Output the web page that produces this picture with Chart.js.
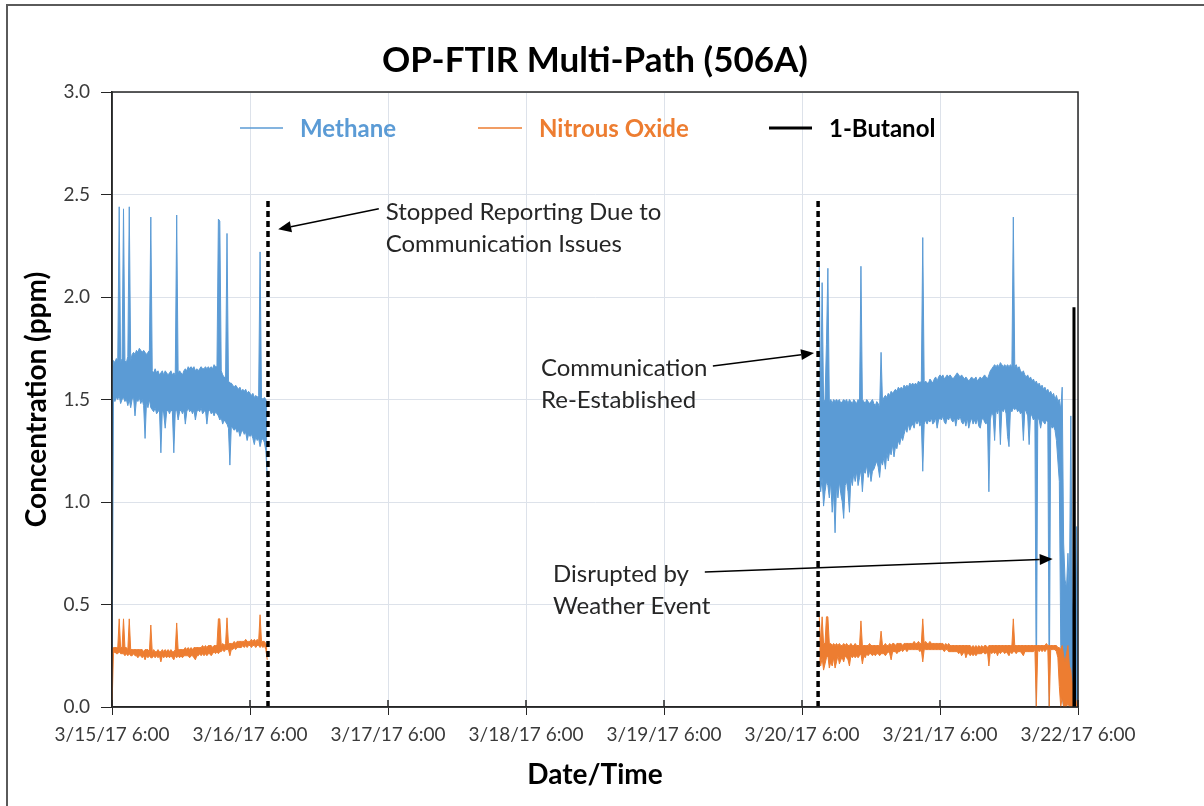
<!DOCTYPE html>
<html>
  <head>
    <title>OP-FTIR Multi-Path (506A)</title>
    <script src="https://cdn.jsdelivr.net/npm/chart.js"></script>
    <style>
      body {
        margin: 0;
        background-color: #ffffff;
        overflow: hidden;
      }
      /* grey frame of the pasted Excel chart, only left/top edges show */
      .frame {
        position: absolute;
        left: 6px;
        top: 4px;
        width: 1400px;
        height: 1000px;
        border: 2px solid #5a5a5a;
      }
      .chart-container {
        position: absolute;
        left: 0;
        top: 0;
        width: 1204px;
        height: 806px;
      }
    </style>
  </head>
  <body>
    <div class="frame"></div>
    <div class="chart-container">
      <canvas id="ftirChart"></canvas>
    </div>

    <script>
      // ---- data ----
      // x = hours after 3/15/17 6:00; readings are summarised as the high/low
      // of each 15 minute block (the raw trace is too dense to read one by one)
      const xTickLabels = ["3/15/17 6:00", "3/16/17 6:00", "3/17/17 6:00", "3/18/17 6:00",
        "3/19/17 6:00", "3/20/17 6:00", "3/21/17 6:00", "3/22/17 6:00"];
      const yTickValues = [0, 0.5, 1.0, 1.5, 2.0, 2.5, 3.0];

      const sampleStep = 0.25;
      const run1Start = 0;     // 3/15 6:00
      const run2Start = 123;   // 3/20 ~9:00

      // first run, 3/15 6:00 -> 3/16 9:00 (ppm)
      const methaneHigh1 = [
        1.60, 1.69, 1.68, 1.70,  1.69, 2.44, 1.68, 1.70,  2.43, 1.69, 1.68, 1.71,
        2.44, 1.69, 1.72, 1.73,  1.72, 1.74, 1.73, 1.75,  1.74, 1.73, 1.74, 1.73,
        1.72, 1.73, 1.74, 2.39,  1.64, 1.63, 1.65, 1.63,  1.64, 1.62, 1.63, 1.64,
        1.62, 1.64, 1.63, 1.62,  1.63, 1.64, 1.62, 1.63,  1.62, 2.40, 1.63, 1.64,
        1.63, 1.62, 1.64, 1.65,  1.64, 1.66, 1.65, 1.66,  1.65, 1.66, 1.64, 1.65,
        1.64, 1.65, 1.66, 1.65,  1.65, 1.66, 1.65, 1.66,  1.65, 1.66, 1.65, 1.67,
        1.66, 1.66, 2.38, 2.37,  1.64, 1.62, 1.61, 1.60,  2.31, 1.59, 1.58, 1.58,
        1.57, 1.56, 1.57, 1.56,  1.55, 1.56, 1.54, 1.55,  1.54, 1.55, 1.53, 1.54,
        1.53, 1.52, 1.53, 1.51,  1.52, 1.51, 1.52, 2.22,  1.51, 1.50, 1.51, 1.50,
        1.48
      ];
      const methaneLow1 = [
        0.00, 1.50, 1.49, 1.51,  1.50, 1.52, 1.48, 1.50,  1.51, 1.49, 1.50, 1.47,
        1.50, 1.46, 1.50, 1.51,  1.42, 1.50, 1.49, 1.51,  1.48, 1.50, 1.47, 1.31,
        1.49, 1.46, 1.50, 1.46,  1.45, 1.44, 1.46, 1.43,  1.44, 1.45, 1.24, 1.45,
        1.43, 1.36, 1.44, 1.45,  1.43, 1.45, 1.44, 1.24,  1.44, 1.45, 1.40, 1.44,
        1.45, 1.43, 1.45, 1.38,  1.44, 1.46, 1.44, 1.45,  1.43, 1.45, 1.40, 1.44,
        1.45, 1.44, 1.46, 1.43,  1.44, 1.45, 1.38, 1.44,  1.45, 1.43, 1.44, 1.42,
        1.44, 1.43, 1.42, 1.40,  1.41, 1.38, 1.40, 1.39,  1.38, 1.36, 1.18, 1.37,
        1.36, 1.35, 1.36, 1.34,  1.35, 1.32, 1.34, 1.35,  1.33, 1.34, 1.30, 1.33,
        1.32, 1.33, 1.31, 1.28,  1.32, 1.30, 1.31, 1.27,  1.30, 1.31, 1.29, 1.25,
        1.12
      ];
      const nitrousHigh1 = [
        0.28, 0.29, 0.29, 0.29,  0.29, 0.43, 0.29, 0.29,  0.43, 0.29, 0.29, 0.28,
        0.43, 0.28, 0.28, 0.28,  0.28, 0.28, 0.28, 0.28,  0.28, 0.28, 0.27, 0.28,
        0.28, 0.28, 0.27, 0.40,  0.27, 0.28, 0.27, 0.27,  0.28, 0.27, 0.27, 0.28,
        0.27, 0.28, 0.27, 0.28,  0.27, 0.28, 0.27, 0.27,  0.28, 0.41, 0.28, 0.28,
        0.28, 0.28, 0.28, 0.29,  0.28, 0.29, 0.28, 0.29,  0.28, 0.29, 0.29, 0.29,
        0.29, 0.29, 0.29, 0.30,  0.29, 0.30, 0.29, 0.30,  0.30, 0.30, 0.29, 0.30,
        0.30, 0.30, 0.43, 0.43,  0.30, 0.31, 0.30, 0.31,  0.435, 0.31, 0.31, 0.31,
        0.31, 0.32, 0.31, 0.32,  0.32, 0.32, 0.32, 0.32,  0.32, 0.33, 0.32, 0.32,
        0.32, 0.33, 0.32, 0.33,  0.32, 0.33, 0.32, 0.45,  0.32, 0.32, 0.32, 0.31,
        0.30
      ];
      const nitrousLow1 = [
        0.00, 0.26, 0.27, 0.26,  0.26, 0.27, 0.26, 0.26,  0.26, 0.25, 0.26, 0.25,
        0.26, 0.25, 0.25, 0.26,  0.25, 0.25, 0.24, 0.25,  0.25, 0.24, 0.25, 0.23,
        0.25, 0.24, 0.25, 0.24,  0.24, 0.25, 0.24, 0.25,  0.24, 0.25, 0.22, 0.25,
        0.24, 0.25, 0.24, 0.25,  0.24, 0.25, 0.24, 0.23,  0.25, 0.24, 0.25, 0.24,
        0.25, 0.24, 0.25, 0.25,  0.25, 0.25, 0.24, 0.25,  0.25, 0.24, 0.23, 0.25,
        0.25, 0.26, 0.25, 0.26,  0.25, 0.26, 0.25, 0.26,  0.26, 0.25, 0.26, 0.27,
        0.26, 0.27, 0.26, 0.27,  0.27, 0.28, 0.27, 0.28,  0.28, 0.28, 0.25, 0.28,
        0.28, 0.29, 0.28, 0.29,  0.29, 0.29, 0.29, 0.30,  0.29, 0.30, 0.29, 0.30,
        0.30, 0.29, 0.30, 0.30,  0.29, 0.30, 0.30, 0.29,  0.30, 0.29, 0.30, 0.28,
        0.23
      ];

      // second run, 3/20 9:00 -> 3/22 6:00 (ppm)
      const methaneHigh2 = [
        2.15, 1.50, 2.07, 1.49,  1.50, 1.77, 2.14, 1.49,  1.50, 1.48, 1.50, 1.49,
        1.50, 1.49, 1.50, 1.48,  1.49, 1.50, 1.49, 1.50,  1.48, 1.50, 1.49, 1.48,
        1.50, 1.49, 1.48, 1.50,  1.49, 2.15, 1.50, 1.49,  1.48, 1.50, 1.49, 1.48,
        1.49, 1.50, 1.48, 1.47,  1.49, 1.48, 1.46, 1.73,  1.49, 1.51, 1.52, 1.51,
        1.53, 1.52, 1.54, 1.53,  1.54, 1.55, 1.54, 1.56,  1.55, 1.56, 1.55, 1.57,
        1.56, 1.57, 1.56, 1.58,  1.57, 1.58, 1.57, 1.58,  1.57, 1.59, 1.58, 1.59,
        2.29, 1.58, 1.59, 1.58,  1.58, 1.60, 1.59, 1.58,  1.60, 1.61, 1.59, 1.61,
        1.62, 1.61, 1.62, 1.60,  1.61, 1.62, 1.61, 1.62,  1.61, 1.60, 1.61, 1.62,
        1.63, 1.62, 1.61, 1.62,  1.61, 1.60, 1.61, 1.60,  1.59, 1.60, 1.61, 1.60,
        1.60, 1.61, 1.59, 1.60,  1.61, 1.60, 1.61, 1.62,  1.61, 1.60, 1.62, 1.64,
        1.65, 1.66, 1.67, 1.66,  1.67, 1.66, 1.68, 1.67,  1.66, 1.67, 1.66, 1.67,
        1.66, 1.67, 1.66, 2.39,  1.66, 1.67, 1.65, 1.66,  1.64, 1.63, 1.64, 1.62,
        1.61, 1.62, 1.60, 1.61,  1.59, 1.60, 1.58, 1.59,  1.57, 1.58, 1.56, 1.57,
        1.55, 1.56, 1.54, 1.55,  1.53, 1.54, 1.52, 1.53,  1.50, 1.52, 1.49, 1.50,
        1.45, 1.56, 0.80, 0.62,  0.58, 0.75, 0.55, 1.42,  0.45, 0.55, 0.35, 0.88,
        0.45
      ];
      const methaneLow2 = [
        1.10, 1.05, 1.12, 0.98,  1.05, 1.10, 1.08, 1.02,  1.10, 0.95, 1.05, 0.85,
        1.08, 1.02, 1.10, 1.04,  1.00, 0.92, 1.08, 1.10,  1.05, 0.95, 1.12, 1.08,
        1.14, 1.10, 1.15, 1.08,  1.12, 1.16, 1.05, 1.15,  1.14, 1.18, 1.12, 1.16,
        1.10, 1.15, 1.16, 1.18,  1.20, 1.17, 1.12, 1.20,  1.18, 1.22, 1.16, 1.24,
        1.20, 1.25, 1.23, 1.28,  1.22, 1.27, 1.26, 1.30,  1.28, 1.32, 1.30, 1.33,
        1.36, 1.34, 1.38, 1.35,  1.37, 1.38, 1.36, 1.40,  1.38, 1.40, 1.37, 1.39,
        1.15, 1.38, 1.40, 1.38,  1.40, 1.39, 1.41, 1.38,  1.39, 1.41, 1.36, 1.40,
        1.41, 1.40, 1.42, 1.39,  1.38, 1.41, 1.40, 1.42,  1.40, 1.39, 1.41, 1.37,
        1.41, 1.40, 1.42, 1.39,  1.38, 1.40, 1.37, 1.41,  1.36, 1.39, 1.41, 1.38,
        1.40, 1.38, 1.41, 1.37,  1.36, 1.40, 1.41, 1.39,  1.38, 1.40, 1.05, 1.40,
        1.44, 1.42, 1.30, 1.45,  1.43, 1.46, 1.28, 1.45,  1.44, 1.46, 1.43, 1.32,
        1.27, 1.45, 1.44, 1.46,  1.45, 1.46, 1.44, 1.45,  1.43, 1.44, 1.30, 1.45,
        1.44, 1.42, 1.28, 1.43,  1.42, 1.40, 1.41, 0.00,  1.41, 1.40, 1.36, 1.40,
        1.39, 1.38, 1.40, 1.39,  0.00, 1.38, 1.36, 1.37,  1.35, 1.30, 1.20, 1.10,
        0.30, 0.05, 0.00, 0.02,  0.00, 0.10, 0.00, 0.05,  0.00, 0.05, 0.00, 0.00,
        0.00
      ];
      const nitrousHigh2 = [
        0.44, 0.31, 0.44, 0.31,  0.31, 0.44, 0.44, 0.31,  0.31, 0.30, 0.31, 0.30,
        0.31, 0.30, 0.31, 0.30,  0.30, 0.31, 0.30, 0.31,  0.30, 0.30, 0.31, 0.30,
        0.30, 0.31, 0.30, 0.30,  0.30, 0.42, 0.30, 0.30,  0.30, 0.30, 0.30, 0.31,
        0.30, 0.30, 0.30, 0.30,  0.30, 0.30, 0.30, 0.37,  0.30, 0.30, 0.31, 0.30,
        0.30, 0.31, 0.30, 0.31,  0.31, 0.30, 0.31, 0.31,  0.31, 0.31, 0.30, 0.31,
        0.31, 0.31, 0.31, 0.31,  0.31, 0.31, 0.32, 0.31,  0.31, 0.32, 0.31, 0.31,
        0.43, 0.31, 0.32, 0.31,  0.31, 0.32, 0.31, 0.31,  0.31, 0.31, 0.31, 0.31,
        0.31, 0.31, 0.31, 0.30,  0.31, 0.30, 0.31, 0.30,  0.30, 0.30, 0.30, 0.30,
        0.30, 0.30, 0.30, 0.30,  0.30, 0.30, 0.30, 0.30,  0.30, 0.30, 0.29, 0.30,
        0.29, 0.30, 0.29, 0.30,  0.29, 0.30, 0.29, 0.30,  0.30, 0.29, 0.30, 0.30,
        0.30, 0.30, 0.30, 0.30,  0.30, 0.30, 0.30, 0.30,  0.30, 0.30, 0.30, 0.30,
        0.30, 0.30, 0.30, 0.43,  0.30, 0.30, 0.30, 0.30,  0.30, 0.30, 0.30, 0.30,
        0.30, 0.30, 0.30, 0.30,  0.30, 0.30, 0.30, 0.30,  0.30, 0.30, 0.30, 0.30,
        0.30, 0.30, 0.31, 0.30,  0.30, 0.30, 0.30, 0.30,  0.30, 0.30, 0.29, 0.29,
        0.28, 0.30, 0.25, 0.22,  0.26, 0.30, 0.20, 0.18,  0.10, 0.15, 0.05, 0.02,
        0.00
      ];
      const nitrousLow2 = [
        0.22, 0.20, 0.24, 0.18,  0.21, 0.24, 0.25, 0.19,  0.22, 0.20, 0.24, 0.19,
        0.22, 0.25, 0.21, 0.23,  0.24, 0.22, 0.25, 0.24,  0.23, 0.20, 0.25, 0.24,
        0.25, 0.24, 0.25, 0.24,  0.25, 0.26, 0.21, 0.25,  0.24, 0.26, 0.25, 0.26,
        0.26, 0.25, 0.26, 0.25,  0.26, 0.26, 0.25, 0.26,  0.26, 0.26, 0.25, 0.26,
        0.27, 0.26, 0.23, 0.27,  0.27, 0.27, 0.26, 0.27,  0.27, 0.28, 0.27, 0.28,
        0.28, 0.27, 0.28, 0.28,  0.28, 0.28, 0.28, 0.28,  0.28, 0.28, 0.27, 0.28,
        0.22, 0.28, 0.28, 0.28,  0.28, 0.28, 0.28, 0.28,  0.28, 0.28, 0.28, 0.28,
        0.28, 0.28, 0.28, 0.27,  0.28, 0.28, 0.27, 0.27,  0.27, 0.27, 0.27, 0.27,
        0.27, 0.26, 0.27, 0.25,  0.26, 0.27, 0.24, 0.26,  0.26, 0.25, 0.26, 0.25,
        0.26, 0.25, 0.26, 0.26,  0.26, 0.26, 0.27, 0.26,  0.26, 0.27, 0.20, 0.27,
        0.26, 0.27, 0.26, 0.27,  0.25, 0.27, 0.26, 0.27,  0.27, 0.26, 0.27, 0.26,
        0.25, 0.27, 0.26, 0.27,  0.27, 0.26, 0.27, 0.27,  0.27, 0.26, 0.25, 0.27,
        0.27, 0.27, 0.27, 0.27,  0.27, 0.27, 0.28, 0.00,  0.28, 0.27, 0.28, 0.27,
        0.28, 0.27, 0.28, 0.28,  0.00, 0.28, 0.28, 0.28,  0.28, 0.27, 0.24, 0.10,
        0.00, 0.05, 0.00, 0.00,  0.00, 0.02, 0.00, 0.00,  0.00, 0.00, 0.00, 0.00,
        0.00
      ];

      // 1-Butanol only shows up in the last hour
      const butanolTimes = [167.2, 167.3, 167.4];
      const butanolValues = [0.0, 1.95, 0.0];

      // outage markers (dashed lines)
      const outageTimes = [27.13, 122.8];
      const outageTop = 2.48;

      // text annotations, in data coordinates (hours, ppm)
      const notes = [
        { lines: ["Stopped Reporting Due to", "Communication Issues"], x: 47.6, y: 2.415,
          arrowFrom: [46.4, 2.43], arrowTo: [28.9, 2.33] },
        { lines: ["Communication", "Re-Established"], x: 74.6, y: 1.654,
          arrowFrom: [104.5, 1.663], arrowTo: [122.1, 1.727] },
        { lines: ["Disrupted by", "Weather Event"], x: 76.7, y: 0.649,
          arrowFrom: [103.1, 0.659], arrowTo: [163.6, 0.722] },
      ];

      const methaneColor = "#5b9bd5";
      const nitrousColor = "#ed7d31";
      const butanolColor = "#000000";

      // turn the two runs into {x, y} points with a gap between them
      function toPoints(run1, run2) {
        const pts = run1.map((v, i) => ({ x: run1Start + i * sampleStep, y: v }));
        pts.push({ x: (run1Start + run1.length * sampleStep + run2Start) / 2, y: null });
        run2.forEach((v, i) => pts.push({ x: run2Start + i * sampleStep, y: v }));
        return pts;
      }

      function drawArrow(ctx, x1, y1, x2, y2) {
        const ang = Math.atan2(y2 - y1, x2 - x1);
        const len = 13, half = 5.5;
        const bx = x2 - len * Math.cos(ang), by = y2 - len * Math.sin(ang);
        ctx.beginPath();
        ctx.moveTo(x1, y1);
        ctx.lineTo(bx, by);
        ctx.stroke();
        ctx.beginPath();
        ctx.moveTo(x2, y2);
        ctx.lineTo(bx + half * Math.sin(ang), by - half * Math.cos(ang));
        ctx.lineTo(bx - half * Math.sin(ang), by + half * Math.cos(ang));
        ctx.closePath();
        ctx.fill();
      }

      // titles, legend, border and arrows drawn on top of the chart
      const overlayPlugin = {
        id: "overlay",
        afterDraw(chart) {
          const ctx = chart.ctx;
          const area = chart.chartArea;
          const xs = chart.scales.x, ys = chart.scales.y;
          const midX = (area.left + area.right) / 2;
          ctx.save();

          // inner halves of the x tick marks
          ctx.strokeStyle = "#262626";
          ctx.lineWidth = 1.5;
          xTickLabels.forEach((_, i) => {
            const px = xs.getPixelForValue(i * 24);
            ctx.beginPath();
            ctx.moveTo(px, area.bottom - 7);
            ctx.lineTo(px, area.bottom);
            ctx.stroke();
          });

          // plot area border
          ctx.strokeRect(area.left, area.top, area.right - area.left, area.bottom - area.top);

          // chart title + axis titles
          ctx.fillStyle = "#000000";
          ctx.textAlign = "center";
          ctx.textBaseline = "middle";
          ctx.font = "bold 35px Lato";
          ctx.fillText("OP-FTIR Multi-Path (506A)", midX, 61);
          ctx.font = "bold 28px Lato";
          ctx.fillText("Date/Time", midX, 775);
          ctx.save();
          ctx.translate(37, (area.top + area.bottom) / 2);
          ctx.rotate(-Math.PI / 2);
          ctx.fillText("Concentration (ppm)", 0, 0);
          ctx.restore();

          // legend inside plot
          const legend = [
            { text: "Methane", color: methaneColor, x1: 240, x2: 283, tx: 300, w: 1.5 },
            { text: "Nitrous Oxide", color: nitrousColor, x1: 478, x2: 522, tx: 539, w: 1.5 },
            { text: "1-Butanol", color: butanolColor, x1: 769, x2: 812, tx: 829, w: 3 },
          ];
          ctx.font = "bold 24px Lato";
          ctx.textAlign = "left";
          legend.forEach((it) => {
            ctx.strokeStyle = it.color;
            ctx.lineWidth = it.w;
            ctx.beginPath();
            ctx.moveTo(it.x1, 128);
            ctx.lineTo(it.x2, 128);
            ctx.stroke();
            ctx.fillStyle = it.color;
            ctx.fillText(it.text, it.tx, 129);
          });

          // annotations
          ctx.font = "24px Lato";
          notes.forEach((n) => {
            ctx.fillStyle = "#262626";
            const tx = xs.getPixelForValue(n.x);
            const ty = ys.getPixelForValue(n.y);
            n.lines.forEach((line, i) => ctx.fillText(line, tx, ty + i * 32));
            ctx.strokeStyle = "#000000";
            ctx.fillStyle = "#000000";
            ctx.lineWidth = 1.5;
            drawArrow(ctx,
              xs.getPixelForValue(n.arrowFrom[0]), ys.getPixelForValue(n.arrowFrom[1]),
              xs.getPixelForValue(n.arrowTo[0]), ys.getPixelForValue(n.arrowTo[1]));
          });

          ctx.restore();
        },
      };

      // high/low pairs are filled between, so each gas reads as one dense band
      const datasets = [
        {
          label: "Methane",
          data: toPoints(methaneHigh1, methaneHigh2),
          borderColor: methaneColor,
          backgroundColor: methaneColor,
          borderWidth: 1,
          fill: "+1",
          order: 3,
        },
        {
          label: "Methane low",
          data: toPoints(methaneLow1, methaneLow2),
          borderColor: methaneColor,
          borderWidth: 1,
          fill: false,
          order: 3,
        },
        {
          label: "Nitrous Oxide",
          data: toPoints(nitrousHigh1, nitrousHigh2),
          borderColor: nitrousColor,
          backgroundColor: nitrousColor,
          borderWidth: 1,
          fill: "+1",
          order: 2,
        },
        {
          label: "Nitrous Oxide low",
          data: toPoints(nitrousLow1, nitrousLow2),
          borderColor: nitrousColor,
          borderWidth: 1,
          fill: false,
          order: 2,
        },
        {
          label: "1-Butanol",
          data: butanolTimes.map((t, i) => ({ x: t, y: butanolValues[i] })),
          borderColor: butanolColor,
          borderWidth: 3,
          fill: false,
          order: 1,
        },
      ];
      outageTimes.forEach((t) => {
        datasets.push({
          label: "outage",
          data: [{ x: t, y: 0 }, { x: t, y: outageTop }],
          borderColor: "#000000",
          borderWidth: 3.5,
          borderDash: [6, 4],
          fill: false,
          order: 0,
        });
      });

      Chart.defaults.font.family = "Lato";

      new Chart(document.getElementById("ftirChart"), {
        type: "line",
        data: { datasets: datasets },
        plugins: [overlayPlugin],
        options: {
          responsive: true,
          maintainAspectRatio: false,
          animation: false,
          spanGaps: false,
          elements: { point: { radius: 0 }, line: { tension: 0 } },
          layout: { padding: { left: 0, right: 126, top: 92, bottom: 0 } },
          plugins: {
            legend: { display: false },
            title: { display: false },
            tooltip: { enabled: false },
          },
          scales: {
            x: {
              type: "linear",
              min: 0,
              max: 168,
              afterFit: (scale) => { scale.height = 99; },
              afterBuildTicks: (scale) => {
                scale.ticks = xTickLabels.map((_, i) => ({ value: i * 24 }));
              },
              ticks: {
                autoSkip: false,
                maxRotation: 0,
                padding: 8,
                color: "#3a3a3a",
                font: { size: 19 },
                callback: (value) => xTickLabels[Math.round(value / 24)],
              },
              grid: { color: "#dde2ea", lineWidth: 1, tickLength: 8, tickColor: "#262626" },
              border: { color: "#262626", width: 1.5 },
            },
            y: {
              min: 0,
              max: 3,
              afterFit: (scale) => { scale.width = 112; },
              afterBuildTicks: (scale) => {
                scale.ticks = yTickValues.map((v) => ({ value: v }));
              },
              ticks: {
                padding: 11,
                color: "#3a3a3a",
                font: { size: 19 },
                callback: (value) => value.toFixed(1),
              },
              grid: { color: "#dde2ea", lineWidth: 1, tickLength: 11, tickColor: "#262626" },
              border: { color: "#262626", width: 1.5 },
            },
          },
        },
      });
    </script>
  </body>
</html>
